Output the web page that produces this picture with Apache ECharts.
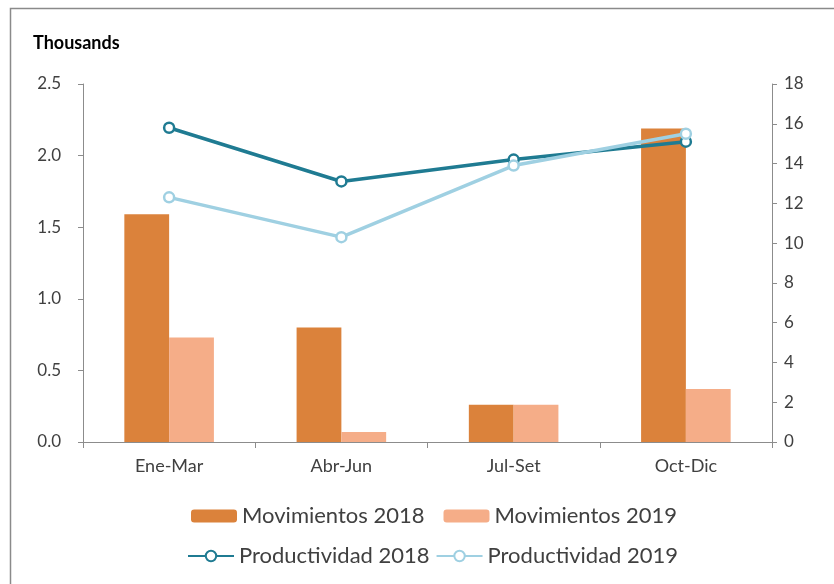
<!DOCTYPE html>
<html><head><meta charset="utf-8">
<script src="https://cdn.jsdelivr.net/npm/echarts@6/dist/echarts.min.js"></script>
<style>html,body{margin:0;padding:0;background:#fff}#c{width:834px;height:584px}</style>
</head><body><div id="c"></div>
<script>
const categories = ['Ene-Mar','Abr-Jun','Jul-Set','Oct-Dic'];
const mov2018 = [1.59, 0.80, 0.26, 2.19];
const mov2019 = [0.73, 0.07, 0.26, 0.37];
const prod2018 = [15.8, 13.1, 14.2, 15.1];
const prod2019 = [12.3, 10.3, 13.9, 15.5];
const leftTicks = {min:0, max:2.5, interval:0.5};
const rightTicks = {min:0, max:18, interval:2};

const FONT = 'Lato';
const chart = echarts.init(document.getElementById('c'), null, {renderer:'canvas'});
const axisGray = '#8c8c8c';
const labelColor = '#404040';
chart.setOption({
  backgroundColor:'#fff',
  animation:false,
  textStyle:{fontFamily:FONT},
  graphic:[
    {type:'rect', shape:{x:10.5,y:8.5,width:830,height:590}, style:{fill:'none', stroke:'#8a8a8a', lineWidth:1.5}},
    {type:'text', left:33, top:34, style:{text:'Thousands', font:'bold 18px '+FONT, fill:'#000'}}
  ],
  legend:[
    {data:['Movimientos 2018','Movimientos 2019'], left:186, top:500, itemWidth:46, itemHeight:13, itemGap:19,
     textStyle:{fontSize:22, color:labelColor, fontFamily:FONT}},
    {data:['Productividad 2018','Productividad 2019'], left:182, top:540, itemWidth:46, itemHeight:13, itemGap:6,
     textStyle:{fontSize:22, color:labelColor, fontFamily:FONT}}
  ],
  grid:{left:83, right:62, top:84, bottom:142},
  xAxis:{type:'category', data:categories,
    axisLine:{lineStyle:{color:axisGray, width:1}},
    axisTick:{show:true, alignWithLabel:false, length:6, lineStyle:{color:axisGray}},
    axisLabel:{fontSize:18, color:labelColor, margin:15, fontFamily:FONT}},
  yAxis:[
    {type:'value', min:leftTicks.min, max:leftTicks.max, interval:leftTicks.interval, position:'left',
     axisLine:{show:true, lineStyle:{color:axisGray}}, axisTick:{show:true, length:5, lineStyle:{color:axisGray}},
     splitLine:{show:false},
     axisLabel:{fontSize:17, color:labelColor, margin:22, formatter:v=>v.toFixed(1), fontFamily:FONT}},
    {type:'value', min:rightTicks.min, max:rightTicks.max, interval:rightTicks.interval, position:'right',
     axisLine:{show:true, lineStyle:{color:axisGray}}, axisTick:{show:true, length:5, lineStyle:{color:axisGray}},
     splitLine:{show:false},
     axisLabel:{fontSize:17, color:labelColor, margin:12, fontFamily:FONT}}
  ],
  series:[
    {name:'Movimientos 2018', type:'bar', data:mov2018, barGap:'0%', barCategoryGap:'48%', itemStyle:{color:'#DB823B'}},
    {name:'Movimientos 2019', type:'bar', data:mov2019, barGap:'0%', barCategoryGap:'48%', itemStyle:{color:'#F5AD88'}},
    {name:'Productividad 2018', type:'line', yAxisIndex:1, data:prod2018, symbol:'circle', symbolSize:10,
     lineStyle:{color:'#1F7B92', width:3.5}, itemStyle:{color:'#fff', borderColor:'#1F7B92', borderWidth:2.5}},
    {name:'Productividad 2019', type:'line', yAxisIndex:1, data:prod2019, symbol:'circle', symbolSize:10,
     lineStyle:{color:'#9FD0E2', width:3.5}, itemStyle:{color:'#fff', borderColor:'#9FD0E2', borderWidth:2.5}}
  ]
});
</script></body></html>
